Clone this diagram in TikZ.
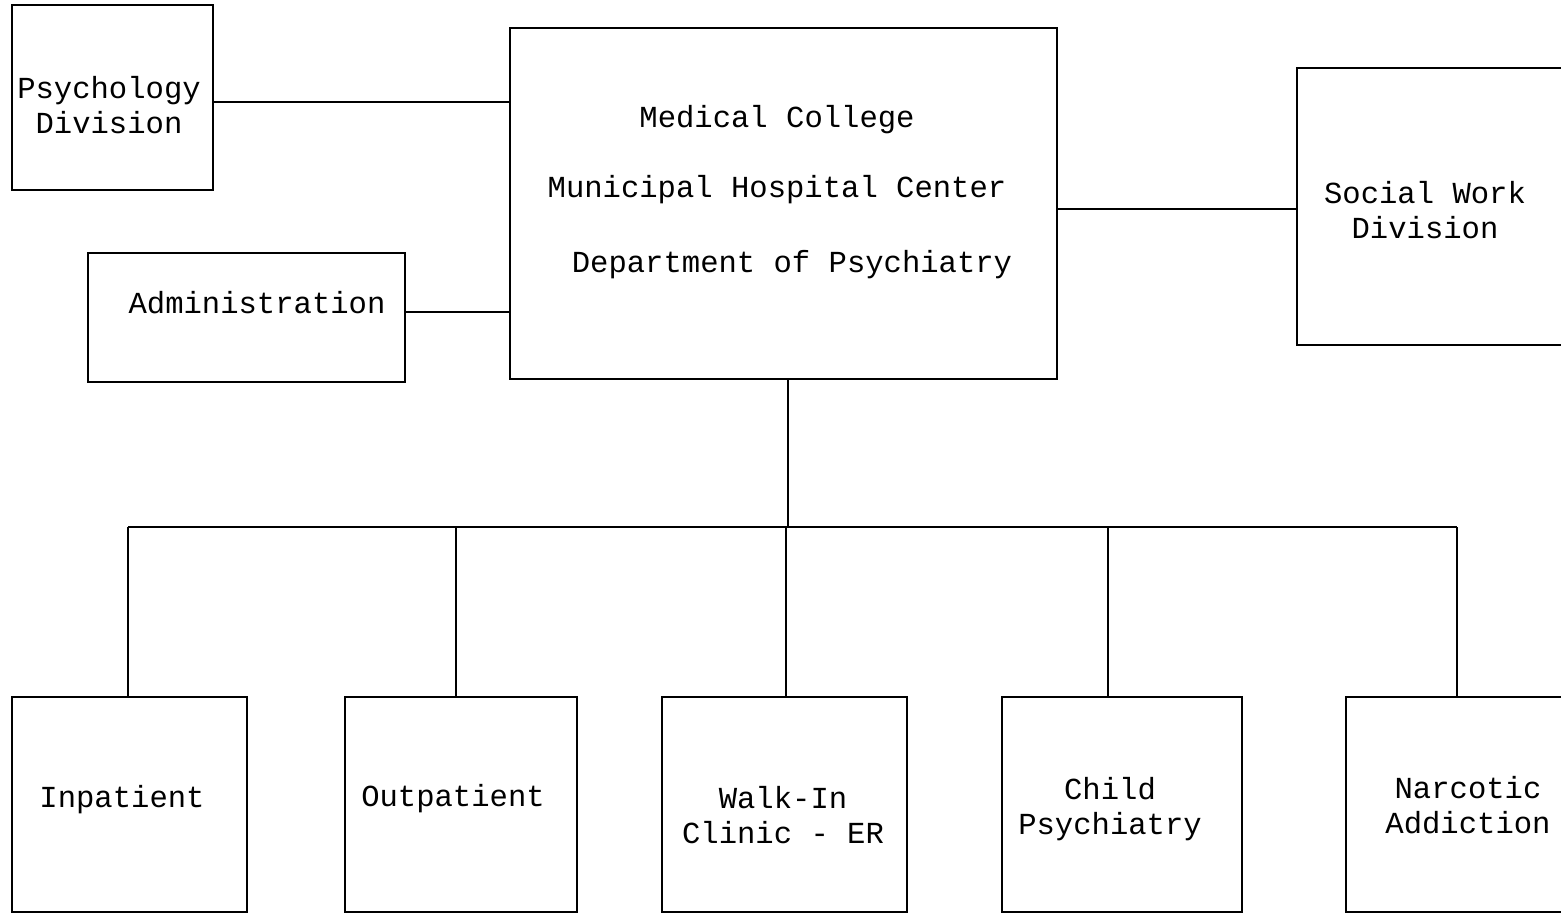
\documentclass[tikz,border=0pt]{standalone}
\usepackage{fontspec}
\setmainfont{Liberation Mono}
\begin{document}
\begin{tikzpicture}[x=0.02cm,y=-0.02cm,
  box/.style={draw, line width=1.1pt, inner sep=0pt},
  lbl/.style={font=\fontsize{17.4}{20}\selectfont, align=center, inner sep=0pt},
  conn/.style={line width=1.1pt}]
\useasboundingbox (0,0) rectangle (1561,916);
\clip (0,0) rectangle (1561,916);
% boxes
\node[box, minimum width=4.02cm, minimum height=3.7cm] (psych) at (112.5,97.5) {};
\node[box, minimum width=10.94cm, minimum height=7.02cm] (main) at (783.5,203.5) {};
\node[box, minimum width=6.34cm, minimum height=2.58cm] (admin) at (246.5,317.5) {};
\node[box, minimum width=5.46cm, minimum height=5.54cm] (social) at (1433.5,206.5) {};
\node[box, minimum width=4.7cm, minimum height=4.3cm] (inp) at (129.5,804.5) {};
\node[box, minimum width=4.64cm, minimum height=4.3cm] (outp) at (461,804.5) {};
\node[box, minimum width=4.9cm, minimum height=4.3cm] (walk) at (784.5,804.5) {};
\node[box, minimum width=4.8cm, minimum height=4.3cm] (child) at (1122,804.5) {};
\node[box, minimum width=4.58cm, minimum height=4.3cm] (narc) at (1460.5,804.5) {};
% labels
\node[lbl] (tpsych) at (109,105) {Psychology\\Division};
\node[lbl] (tmain1) at (777,120) {Medical College};
\node[lbl] (tmain2) at (777,190) {Municipal Hospital Center};
\node[lbl] (tmain3) at (792,265) {Department of Psychiatry};
\node[lbl] (tadmin) at (257,303) {Administration};
\node[lbl] (tsocial) at (1425,210) {Social Work\\Division};
\node[lbl] (tinp) at (122,800) {Inpatient};
\node[lbl] (toutp) at (453,799) {Outpatient};
\node[lbl] (twalk) at (783,815) {Walk-In\\Clinic - ER};
\node[lbl] (tchild) at (1110,809) {Child\\Psychiatry};
\node[lbl] (tnarc) at (1468,805) {Narcotic\\Addiction};
% connector anchors
\coordinate (bus) at (788,527);
\coordinate (hp) at (0,102);
\coordinate (ha) at (0,312);
\coordinate (hs) at (0,209);
\coordinate (d1) at (128,527);
\coordinate (d2) at (456,527);
\coordinate (d3) at (786,527);
\coordinate (d4) at (1108,527);
\coordinate (d5) at (1457,527);
% connectors
\draw[conn] (psych.east |- hp) -- (main.west |- hp);
\draw[conn] (admin.east |- ha) -- (main.west |- ha);
\draw[conn] (main.east |- hs) -- (social.west |- hs);
\draw[conn] (main.south -| bus) -- (bus);
\draw[conn] (d1) -- (d5);
\draw[conn] (d1) -- (d1 |- inp.north);
\draw[conn] (d2) -- (d2 |- outp.north);
\draw[conn] (d3) -- (d3 |- walk.north);
\draw[conn] (d4) -- (d4 |- child.north);
\draw[conn] (d5) -- (d5 |- narc.north);
\end{tikzpicture}
\end{document}
